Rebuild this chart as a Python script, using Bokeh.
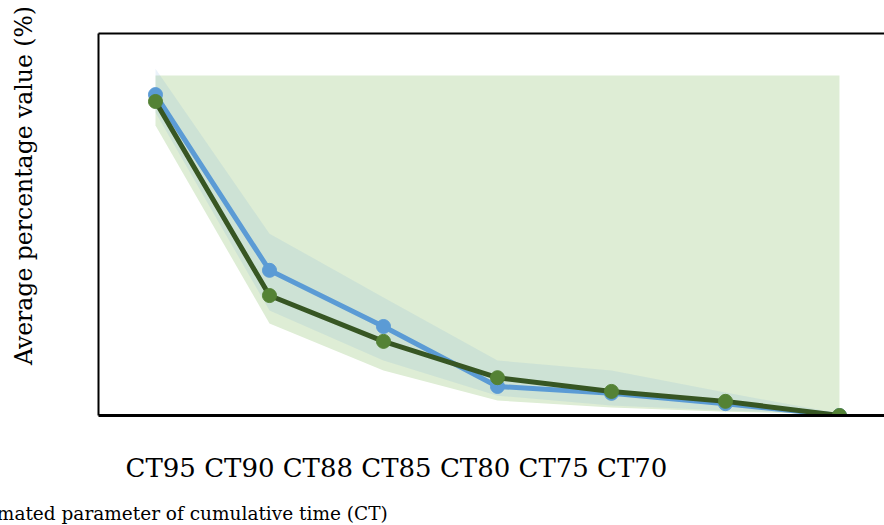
from bokeh.plotting import figure
from bokeh.models import Range1d, LinearAxis, FixedTicker, Title
from bokeh.embed import file_html
from bokeh.resources import INLINE

# ---- data ----
categories = ["CT95", "CT90", "CT88", "CT85", "CT80", "CT75", "CT70"]
x_idx = [0, 1, 2, 3, 4, 5, 6]
blue = [84.0, 38.0, 23.3, 7.6, 5.8, 3.1, 0.0]
green = [82.2, 31.4, 19.4, 9.9, 6.3, 3.7, 0.0]
blue_upper = [90.8, 47.6, 30.9, 14.4, 11.8, 6.0, 0.5]
blue_lower = [79.3, 27.5, 14.4, 5.2, 2.6, 1.3, 0.3]
green_upper = [89.0, 89.0, 89.0, 89.0, 89.0, 89.0, 89.0]
green_lower = [75.9, 24.1, 11.8, 3.9, 2.1, 1.0, 0.3]

x_title = "Estimated parameter of cumulative time (CT)"
y_title = "Average percentage value (%)"
cat_label_pos = 2.114    # centre of the run of category names (x units)
y_title_pos = 60.2       # centre of the y title (y units)

BLUE = "#5b9bd5"
GREEN_LINE = "#375623"
GREEN_MARK = "#548235"
FONT = "DejaVu Serif"

p = figure(width=884, height=525, output_backend="svg", toolbar_location=None,
           x_range=Range1d(-0.5, 6.395), y_range=Range1d(0, 100),
           min_border_left=98, min_border_right=0, min_border_top=33, min_border_bottom=110)
p.outline_line_color = None
p.grid.visible = False
p.background_fill_color = "white"
p.border_fill_color = "white"


def bare(ax):
    ax.major_tick_line_color = None
    ax.minor_tick_line_color = None
    ax.major_tick_out = 0
    ax.major_tick_in = 0
    ax.minor_tick_out = 0
    ax.major_label_text_font = FONT
    ax.major_label_text_color = "black"


# left axis: frame line + the y title
yax = p.yaxis[0]
bare(yax)
yax.ticker = FixedTicker(ticks=[y_title_pos])
yax.major_label_overrides = {y_title_pos: y_title}
yax.major_label_orientation = "vertical"
yax.major_label_text_font_size = "23.5px"
yax.major_label_standoff = 60
yax.axis_line_color = "black"
yax.axis_line_width = 2

# bottom axis: frame line + one run of category names
xax = p.xaxis[0]
bare(xax)
xax.ticker = FixedTicker(ticks=[cat_label_pos])
xax.major_label_overrides = {cat_label_pos: " ".join(categories)}
xax.major_label_standoff = 37
xax.major_label_text_font_size = "26px"
xax.axis_line_color = "black"
xax.axis_line_width = 3
# blank axis label only reserves the gap above the x title
xax.axis_label = " "
xax.axis_label_standoff = 0
xax.axis_label_text_font_size = "11px"

# x title, left-aligned and running off the left edge as in the reference
p.add_layout(Title(text=x_title, align="left", offset=-138, standoff=0,
                   vertical_align="bottom", text_font=FONT, text_font_size="18.5px",
                   text_font_style="normal", text_color="black"), "below")

# top frame line
top_axis = LinearAxis(major_tick_line_color=None, minor_tick_line_color=None,
                      major_label_text_font_size="0px", axis_line_color="black",
                      axis_line_width=2)
p.add_layout(top_axis, "above")

# bands
p.varea(x=x_idx, y1=green_lower, y2=green_upper, fill_color="#deedd5", fill_alpha=1.0)
p.varea(x=x_idx, y1=blue_lower, y2=blue_upper, fill_color=BLUE, fill_alpha=0.13)

# series
p.line(x_idx, blue, line_color=BLUE, line_width=5)
p.scatter(x_idx, blue, size=14, fill_color=BLUE, line_color=BLUE)
p.line(x_idx, green, line_color=GREEN_LINE, line_width=5)
p.scatter(x_idx, green, size=14, fill_color=GREEN_MARK, line_color=GREEN_MARK)

open("out.html", "w").write(file_html(p, INLINE))
